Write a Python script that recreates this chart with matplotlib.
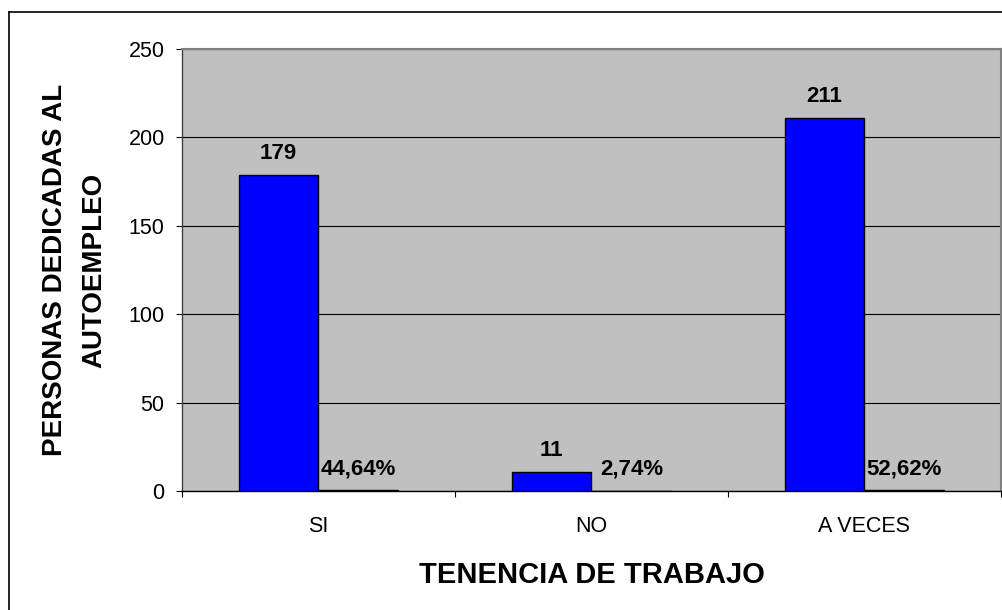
import matplotlib
matplotlib.use("Agg")
import matplotlib.pyplot as plt
from matplotlib.lines import Line2D
import numpy as np

# --- datos ---
categorias = ["SI", "NO", "A VECES"]
personas = [179, 11, 211]
porcentaje = [44.64, 2.74, 52.62]   # en %, se dibuja como fraccion
y_ticks = [0, 50, 100, 150, 200, 250]

plt.rcParams["font.family"] = ["Liberation Sans", "DejaVu Sans"]

fig = plt.figure(figsize=(10.03, 6.10), dpi=100)
ax = fig.add_axes([182 / 1003, 119 / 610, 819 / 1003, 442 / 610])

x = np.arange(len(categorias))
w = 0.293
fracciones = [p / 100 for p in porcentaje]

b1 = ax.bar(x - w / 2, personas, width=w, color="#0000FF",
            edgecolor="black", linewidth=1.0, zorder=3)
b2 = ax.bar(x + w / 2, fracciones, width=w, color="#993366",
            edgecolor="black", linewidth=1.0, zorder=3)

# etiquetas de datos
for rect, v in zip(b1, personas):
    ax.annotate(str(v), (rect.get_x() + rect.get_width() / 2, rect.get_height()),
                xytext=(0, 11.5), textcoords="offset points",
                ha="center", va="baseline", fontsize=16, fontweight="bold")
for rect, p in zip(b2, porcentaje):
    txt = f"{p:.2f}".replace(".", ",") + "%"
    ax.annotate(txt, (rect.get_x() + rect.get_width() / 2, rect.get_height()),
                xytext=(0, 11.5), textcoords="offset points",
                ha="center", va="baseline", fontsize=16, fontweight="bold")

# ejes
ax.set_facecolor("#C0C0C0")
ax.set_xlim(-0.5, len(categorias) - 0.5)
ax.set_ylim(0, 250)
ax.set_yticks(y_ticks)
ax.set_yticklabels([str(t) for t in y_ticks], fontsize=15.5)
ax.yaxis.grid(True, color="black", linewidth=0.8, zorder=1)
ax.set_axisbelow(True)
ax.tick_params(axis="y", length=4, width=0.8, pad=8.5, direction="out")

ax.set_xticks(x)
ax.set_xticklabels(categorias, fontsize=15.5)
ax.set_xticks(np.arange(-0.5, len(categorias)), minor=True)
ax.tick_params(axis="x", which="major", length=0, pad=18)
ax.tick_params(axis="x", which="minor", length=4, width=0.8, direction="out")

for s in ["top", "right"]:
    ax.spines[s].set_color("#808080")
    ax.spines[s].set_linewidth(1.5)
ax.spines["left"].set_color("#404040")
ax.spines["left"].set_linewidth(1.0)
ax.spines["bottom"].set_color("black")
ax.spines["bottom"].set_linewidth(1.0)

ax.set_xlabel("TENENCIA DE TRABAJO", fontsize=21, fontweight="bold", labelpad=17)
ax.set_ylabel("PERSONAS DEDICADAS AL\nAUTOEMPLEO", fontsize=20,
              fontweight="bold", labelpad=15, linespacing=1.7)

# marco exterior del grafico
fig.add_artist(Line2D([9 / 1003, 9 / 1003], [-0.1, 598 / 610],
                      transform=fig.transFigure, color="black", linewidth=1.2))
fig.add_artist(Line2D([9 / 1003, 1.1], [598 / 610, 598 / 610],
                      transform=fig.transFigure, color="black", linewidth=1.2))

fig.savefig("out.png", dpi=100)
